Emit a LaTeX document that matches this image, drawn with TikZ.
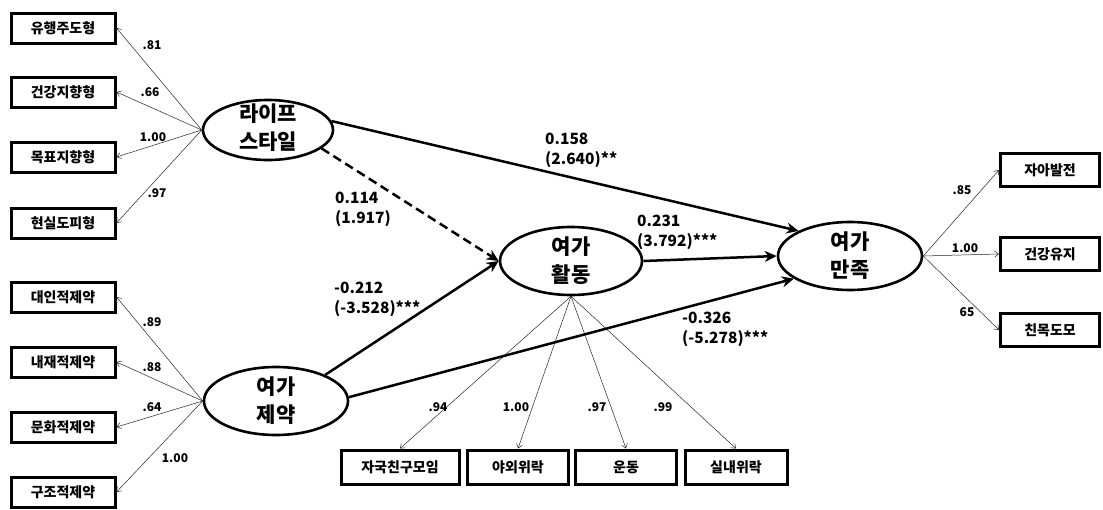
\documentclass[tikz,border=0pt]{standalone}
\usepackage{fontspec}
\setmainfont{Noto Sans CJK KR}
\usetikzlibrary{arrows.meta,shapes.geometric}
\begin{document}
\begin{tikzpicture}[x=1pt,y=-1pt,
  ind/.style={draw, line width=3pt, minimum width=104pt, minimum height=30pt, inner sep=0pt,
    font=\fontsize{14}{16}\selectfont\bfseries},
  lat/.style={draw, ellipse, line width=2.6pt, inner sep=0pt, minimum width=144pt, minimum height=68pt},
  lattext/.style={font=\fontsize{21}{28}\selectfont\bfseries, align=center, inner sep=0pt},
  meas/.style={line width=0.5pt, black!85, -{Straight Barb[length=4pt,width=6pt]}},
  sem/.style={line width=2.5pt, -{Stealth[length=12pt,width=11pt]}},
  coef/.style={font=\fontsize{15.5}{20}\selectfont\bfseries, align=left, anchor=west, inner sep=0pt},
  ld/.style={font=\fontsize{12}{14}\selectfont\bfseries, inner sep=0pt}
]
\fill[white] (0,0) rectangle (1103,509);
\useasboundingbox (0,0) rectangle (1103,509);

% indicator boxes, left
\node[ind] (b1) at (63,28) {유행주도형};
\node[ind] (b2) at (63,92) {건강지향형};
\node[ind] (b3) at (63,157) {목표지향형};
\node[ind] (b4) at (63,223) {현실도피형};
\node[ind] (c1) at (63,297) {대인적제약};
\node[ind] (c2) at (63,362) {내재적제약};
\node[ind] (c3) at (63,427) {문화적제약};
\node[ind] (c4) at (63,492) {구조적제약};
% bottom
\node[ind, minimum width=118pt, minimum height=34pt] (d1) at (400,467) {자국친구모임};
\node[ind, minimum width=101pt, minimum height=34pt] (d2) at (518,467) {야외위락};
\node[ind, minimum width=101pt, minimum height=34pt] (d3) at (626,467) {운동};
\node[ind, minimum width=102pt, minimum height=34pt] (d4) at (736,467) {실내위락};
% right
\node[ind, minimum width=99pt, minimum height=33pt] (e1) at (1050,170) {자아발전};
\node[ind, minimum width=99pt, minimum height=33pt] (e2) at (1050,254) {건강유지};
\node[ind, minimum width=99pt, minimum height=33pt] (e3) at (1050,330) {친목도모};

% latent variables
\node[lat, minimum width=130pt, minimum height=60pt] (LS) at (268,130) {};
\node[lattext] (LSt) at (268,128) {라이프\\스타일};
\node[lat] (LC) at (276,401) {};
\node[lattext] (LCt) at (276,401) {여가\\제약};
\node[lat, minimum width=142pt] (LA) at (571,261) {};
\node[lattext] (LAt) at (571,261) {여가\\활동};
\node[lat] (LSat) at (850,256) {};
\node[lattext] (LSatt) at (850,256) {여가\\만족};

% measurement paths
\foreach \b in {b1,b2,b3,b4} \draw[meas] (LS.west) -- (\b.east);
\foreach \b in {c1,c2,c3,c4} \draw[meas] (LC.west) -- (\b.east);
\foreach \b in {d1,d2,d3,d4} \draw[meas] (LA.south) -- (\b.north);
\foreach \b in {e1,e2,e3} \draw[meas] (LSat.east) -- (\b.west);

% structural paths
\draw[sem] (LS.8) -- (LSat.154);
\draw[sem, dash pattern=on 9pt off 5pt] (LS.341) -- (LA.west);
\draw[sem] (LC.28) -- (LA.west);
\draw[sem] (LA.east) -- (LSat.west);
\draw[sem] (LC.3) -- (LSat.202);

% coefficients
\node[coef] (k1) at (545,150) {0.158\\(2.640)**};
\node[coef] (k2) at (335,209) {0.114\\(1.917)};
\node[coef] (k3) at (334,299) {-0.212\\(-3.528)***};
\node[coef] (k4) at (637,232) {0.231\\(3.792)***};
\node[coef] (k5) at (682,329) {-0.326\\(-5.278)***};

% loadings
\node[ld] (m1) at (152,45) {.81};
\node[ld] (m2) at (150,92) {.66};
\node[ld] (m3) at (153,137) {1.00};
\node[ld] (m4) at (157,193) {.97};
\node[ld] (m5) at (152,322) {.89};
\node[ld] (m6) at (152,367) {.88};
\node[ld] (m7) at (152,407) {.64};
\node[ld] (m8) at (175,458) {1.00};
\node[ld] (m9) at (438,407) {.94};
\node[ld] (m10) at (516,407) {1.00};
\node[ld] (m11) at (597,407) {.97};
\node[ld] (m12) at (663,407) {.99};
\node[ld] (m13) at (962,190) {.85};
\node[ld] (m14) at (965,248) {1.00};
\node[ld] (m15) at (967,312) {65};
\end{tikzpicture}
\end{document}
